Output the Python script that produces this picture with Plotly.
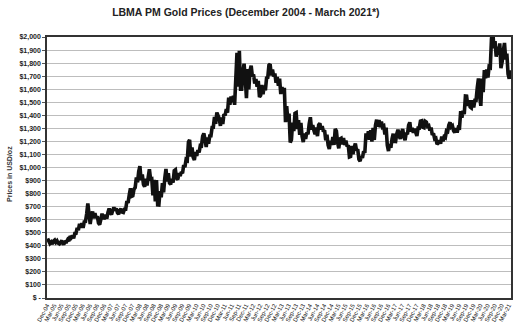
import plotly.graph_objects as go

# Monthly LBMA PM gold price range (USD/oz), Dec 2004 .. Mar 2021
months = (["Dec-04"] +
          [f"{m}-{y:02d}" for y in range(5, 21) for m in
           ["Jan", "Feb", "Mar", "Apr", "May", "Jun", "Jul", "Aug", "Sep", "Oct", "Nov", "Dec"]] +
          ["Jan-21", "Feb-21", "Mar-21"])

monthly_low = [
    435,
    418, 412, 427, 420, 415, 417, 418, 430, 437, 462, 457, 496,
    520, 538, 538, 586, 645, 567, 611, 612, 574, 563, 614, 613,
    608, 652, 640, 672, 653, 642, 658, 655, 680, 729, 779, 783,
    847, 887, 904, 870, 852, 862, 912, 786, 740, 713, 712, 772,
    810, 893, 881, 870, 884, 916, 908, 934, 955, 1003, 1055, 1085,
    1078, 1058, 1088, 1116, 1165, 1215, 1157, 1182, 1243, 1308, 1334, 1376,
    1319, 1333, 1400, 1420, 1480, 1500, 1480, 1620, 1600, 1600, 1680, 1531,
    1598, 1697, 1643, 1618, 1540, 1553, 1562, 1592, 1690, 1705, 1697, 1650,
    1627, 1563, 1570, 1348, 1352, 1192, 1212, 1279, 1294, 1251, 1239, 1195,
    1220, 1254, 1291, 1284, 1256, 1240, 1291, 1275, 1208, 1172, 1142, 1172,
    1173, 1191, 1147, 1176, 1172, 1162, 1081, 1085, 1103, 1130, 1062, 1049,
    1074, 1111, 1216, 1212, 1199, 1211, 1312, 1308, 1310, 1253, 1170, 1126,
    1151, 1200, 1199, 1240, 1220, 1236, 1209, 1254, 1276, 1266, 1269, 1241,
    1302, 1309, 1305, 1316, 1282, 1250, 1220, 1178, 1186, 1183, 1200, 1229,
    1276, 1311, 1282, 1267, 1268, 1304, 1381, 1409, 1472, 1463, 1456, 1460,
    1515, 1547, 1472, 1577, 1683, 1690, 1767, 1914, 1849, 1865, 1762, 1808,
    1829, 1717, 1680,
]

monthly_high = [
    456,
    428, 436, 444, 438, 427, 440, 430, 447, 473, 477, 495, 537,
    569, 573, 584, 644, 725, 633, 663, 650, 626, 603, 646, 637,
    656, 686, 671, 693, 687, 671, 683, 680, 744, 791, 841, 834,
    924, 971, 1011, 946, 914, 925, 986, 914, 905, 904, 819, 880,
    919, 989, 956, 913, 975, 982, 957, 965, 1019, 1061, 1195, 1212,
    1153, 1119, 1134, 1168, 1240, 1261, 1230, 1242, 1307, 1387, 1421, 1405,
    1384, 1409, 1447, 1535, 1545, 1550, 1632, 1878, 1895, 1730, 1795, 1755,
    1744, 1781, 1713, 1678, 1664, 1632, 1626, 1686, 1784, 1792, 1751, 1720,
    1694, 1680, 1617, 1610, 1470, 1413, 1343, 1415, 1420, 1362, 1342, 1261,
    1268, 1333, 1385, 1324, 1306, 1326, 1338, 1316, 1285, 1251, 1204, 1233,
    1296, 1280, 1219, 1224, 1226, 1206, 1171, 1166, 1153, 1184, 1141, 1088,
    1124, 1261, 1277, 1285, 1303, 1324, 1366, 1364, 1352, 1317, 1306, 1180,
    1220, 1259, 1258, 1290, 1266, 1294, 1267, 1324, 1346, 1303, 1296, 1302,
    1355, 1358, 1354, 1348, 1321, 1306, 1261, 1225, 1209, 1237, 1235, 1281,
    1326, 1346, 1319, 1302, 1307, 1431, 1435, 1547, 1546, 1514, 1515, 1515,
    1612, 1683, 1681, 1747, 1751, 1772, 1984, 2067, 1968, 1925, 1951, 1894,
    1954, 1872, 1745,
]

y_ticks = list(range(0, 2001, 100))
y_labels = ["$ -"] + [f"${v:,}" for v in y_ticks[1:]]

# Each month is drawn as its low/high swing, ordered by the direction of travel
xs, ys = [], []
n = len(months)
for i in range(n):
    mid_now = (monthly_low[i] + monthly_high[i]) / 2
    j = min(i + 1, n - 1)
    mid_next = (monthly_low[j] + monthly_high[j]) / 2
    if mid_next >= mid_now:
        pair = (monthly_low[i], monthly_high[i])
    else:
        pair = (monthly_high[i], monthly_low[i])
    xs += [i + 0.25, i + 0.75]
    ys += list(pair)

tick_idx = list(range(0, n, 3))

fig = go.Figure(go.Scatter(
    x=xs, y=ys, mode="lines",
    line=dict(color="#111111", width=3.6),
    hoverinfo="skip",
))

fig.update_layout(
    width=522, height=333,
    margin=dict(l=47, r=9, t=37, b=35),
    paper_bgcolor="white", plot_bgcolor="white",
    showlegend=False,
    font=dict(family="Liberation Sans, Arial, sans-serif", color="#222222"),
    title=dict(
        text="<b>LBMA PM Gold Prices (December 2004 - March 2021*)</b>",
        x=0.471, xref="container", xanchor="center",
        y=0.962, yref="container", yanchor="middle",
        font=dict(size=10.5, color="#222222"),
    ),
    annotations=[dict(
        text="<b>Prices in USD/oz</b>", textangle=-90,
        x=-0.082, xref="paper", xanchor="center",
        y=0.475, yref="paper", yanchor="middle",
        showarrow=False, font=dict(size=7, color="#333333"),
    )],
)

fig.update_xaxes(
    range=[0, n], tickmode="array",
    tickvals=tick_idx, ticktext=[months[i] for i in tick_idx],
    tickangle=-62, tickfont=dict(size=6, color="#111111"),
    showgrid=False, showline=True, linecolor="#333333", linewidth=1.5,
    mirror=True, ticks="", zeroline=False,
)
fig.update_yaxes(
    range=[0, 2000], tickmode="array",
    tickvals=y_ticks, ticktext=[f"<b>{t}</b>" for t in y_labels],
    tickfont=dict(size=7, color="#222222"),
    showgrid=True, gridcolor="#bdbdbd", gridwidth=1,
    showline=True, linecolor="#333333", linewidth=1.5, mirror=True,
    ticks="outside", ticklen=3, tickcolor="#555555", zeroline=False,
)

fig.write_html("out.html")
